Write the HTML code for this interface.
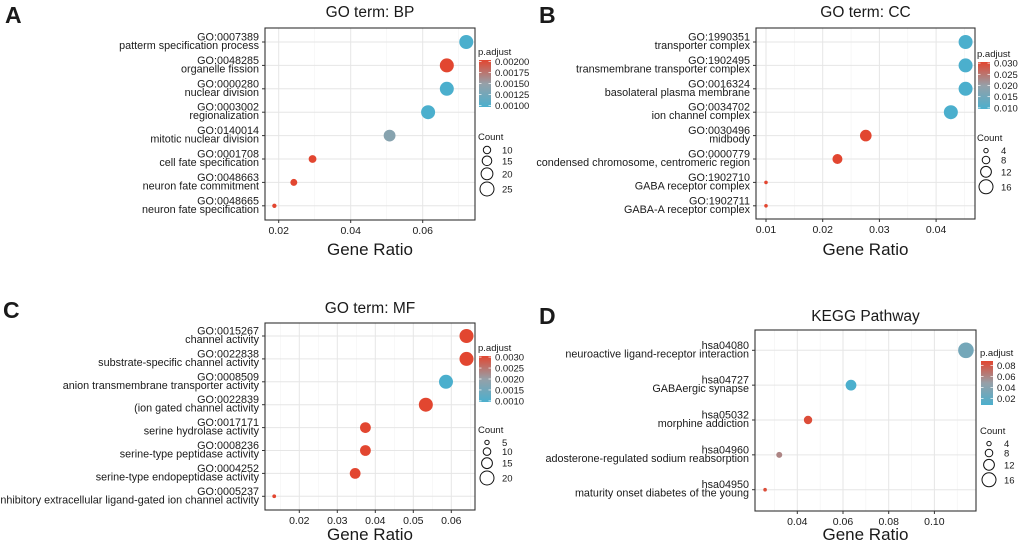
<!DOCTYPE html>
<html><head><meta charset="utf-8">
<style>
html,body{margin:0;padding:0;background:#fff;}
svg{display:block;font-family:"Liberation Sans",Arial,sans-serif;}
</style></head>
<body>
<svg id="fig" width="1020" height="546" viewBox="0 0 1020 546" xmlns="http://www.w3.org/2000/svg"></svg>
<script>
// Panel A: GO BP
const bpIds = ["GO:0007389","GO:0048285","GO:0000280","GO:0003002","GO:0140014","GO:0001708","GO:0048663","GO:0048665"];
const bpTerms = ["patterm specification process","organelle fission","nuclear division","regionalization","mitotic nuclear division","cell fate specification","neuron fate commitment","neuron fate specification"];
const bpRatio = [0.0721,0.0667,0.0667,0.0615,0.0508,0.0294,0.0242,0.0188];
const bpCount = [25,25,25,25,20,11,9,3];
const bpP = [0.0010,0.0020,0.0010,0.0010,0.0014,0.0020,0.0020,0.0020];
const bpXTicks = [0.02,0.04,0.06];
const bpPTicks = ["0.00200","0.00175","0.00150","0.00125","0.00100"];
const bpCountTicks = [10,15,20,25];

// Panel B: GO CC
const ccIds = ["GO:1990351","GO:1902495","GO:0016324","GO:0034702","GO:0030496","GO:0000779","GO:1902710","GO:1902711"];
const ccTerms = ["transporter complex","transmembrane transporter complex","basolateral plasma membrane","ion channel complex","midbody","condensed chromosome, centromeric region","GABA receptor complex","GABA-A receptor complex"];
const ccRatio = [0.0452,0.0452,0.0452,0.0426,0.0276,0.0226,0.0100,0.0100];
const ccCount = [16,16,16,16,13,11,3,3];
const ccP = [0.010,0.010,0.010,0.010,0.030,0.030,0.030,0.030];
const ccXTicks = [0.01,0.02,0.03,0.04];
const ccPTicks = ["0.030","0.025","0.020","0.015","0.010"];
const ccCountTicks = [4,8,12,16];

// Panel C: GO MF
const mfIds = ["GO:0015267","GO:0022838","GO:0008509","GO:0022839","GO:0017171","GO:0008236","GO:0004252","GO:0005237"];
const mfTerms = ["channel activity","substrate-specific channel activity","anion transmembrane transporter activity","(ion gated channel activity","serine hydrolase activity","serine-type peptidase activity","serine-type endopeptidase activity","inhibitory extracellular ligand-gated ion channel activity"];
const mfRatio = [0.0640,0.0640,0.0586,0.0533,0.0374,0.0374,0.0347,0.0134];
const mfCount = [20,20,20,20,15,15,15,4];
const mfP = [0.0030,0.0030,0.0010,0.0030,0.0030,0.0030,0.0030,0.0030];
const mfXTicks = [0.02,0.03,0.04,0.05,0.06];
const mfPTicks = ["0.0030","0.0025","0.0020","0.0015","0.0010"];
const mfCountTicks = [5,10,15,20];

// Panel D: KEGG
const kgIds = ["hsa04080","hsa04727","hsa05032","hsa04960","hsa04950"];
const kgTerms = ["neuroactive ligand-receptor interaction","GABAergic synapse","morphine addiction","adosterone-regulated sodium reabsorption","maturity onset diabetes of the young"];
const kgRatio = [0.1138,0.0635,0.0447,0.0321,0.0259];
const kgCount = [18,12,9,6,3];
const kgP = [0.030,0.008,0.085,0.060,0.085];
const kgXTicks = [0.04,0.06,0.08,0.10];
const kgPTicks = ["0.08","0.06","0.04","0.02"];
const kgPTickVals = [0.08,0.06,0.04,0.02];
const kgCountTicks = [4,8,12,16];

const NS = "http://www.w3.org/2000/svg";
const svg = document.getElementById("fig");
function mk(tag, attrs, parent){
  const e = document.createElementNS(NS, tag);
  for (const k in attrs) e.setAttribute(k, attrs[k]);
  (parent||svg).appendChild(e);
  return e;
}
function txt(s, x, y, size, anchor, parent, weight){
  const t = mk("text", {x:x, y:y, "font-size":size, "text-anchor":anchor||"start", fill:"#1a1a1a"}, parent);
  if (weight) t.setAttribute("font-weight", weight);
  t.textContent = s;
  return t;
}
const BLUE=[75,175,205], RED=[226,70,48], GRAY=[150,160,168];
function col(t){
  t=Math.max(0,Math.min(1,t));
  let a,b,u;
  if(t<0.5){a=BLUE;b=GRAY;u=t/0.5;}else{a=GRAY;b=RED;u=(t-0.5)/0.5;}
  const c=a.map((v,i)=>Math.round(v+(b[i]-v)*u));
  return "rgb("+c.join(",")+")";
}

function panel(cfg){
  const g = mk("g", {});
  
  
  const L=cfg.box[0], T=cfg.box[1], R=cfg.box[2], B=cfg.box[3];
  const xs = v => cfg.xp0 + (v - cfg.xv0) * cfg.xk;
  const n = cfg.ids.length;
  const ys = i => cfg.row0 + i * cfg.rowStep;
  const rs = c => cfg.ra + cfg.rb * c;
  const lt = txt(cfg.letter, cfg.letterPos[0], cfg.letterPos[1], 23, "start", g, "bold");
  
  
  const tt = txt(cfg.title, (L+R)/2, cfg.titleY, 15.5, "middle", g);
  
  
  const grid = mk("g", {}, g);
  
  
  const step = cfg.xticks[1]-cfg.xticks[0];
  for (let i=-1;i<cfg.xticks.length;i++){
    const v = (i<0? cfg.xticks[0]-step/2 : cfg.xticks[i]+step/2);
    const x = xs(v);
    if (x>L && x<R) mk("line",{x1:x,x2:x,y1:T,y2:B,stroke:"#f2f2f2","stroke-width":0.6},grid);
  }
  cfg.xticks.forEach(v=>{
    const x=xs(v);
    mk("line",{x1:x,x2:x,y1:T,y2:B,stroke:"#e6e6e6","stroke-width":1},grid);
  });
  for (let i=0;i<n;i++){
    mk("line",{x1:L,x2:R,y1:ys(i),y2:ys(i),stroke:"#e6e6e6","stroke-width":1},grid);
  }
  mk("rect",{x:L,y:T,width:R-L,height:B-T,fill:"none",stroke:"#333","stroke-width":1.1},g);
  cfg.xticks.forEach((v,i)=>{
    const x=xs(v);
    mk("line",{x1:x,x2:x,y1:B,y2:B+3,stroke:"#333","stroke-width":1},g);
    const t=txt(cfg.xlabels?cfg.xlabels[i]:String(v), x, B+14, 10.5, "middle", g);
    
    
  });
  const xt = txt("Gene Ratio",(L+R)/2,cfg.xTitleY,17,"middle",g);
  
  
  for (let i=0;i<n;i++){
    const y=ys(i);
    mk("line",{x1:L-3,x2:L,y1:y,y2:y,stroke:"#333","stroke-width":1},g);
    const a=txt(cfg.ids[i], L-6, y-1.5, 10.8, "end", g);
    
    
    const b=txt(cfg.terms[i], L-6, y+7, 10.8, "end", g);
    
    
  }
  for (let i=0;i<n;i++){
    const c = mk("circle",{cx:xs(cfg.ratio[i]),cy:ys(i),r:rs(cfg.count[i]),fill:col((cfg.p[i]-cfg.pmin)/(cfg.pmax-cfg.pmin))},g);
    
    
  }
  const lx=cfg.leg[0], ly=cfg.leg[1];
  const pl = txt("p.adjust", lx, ly, 9.5, "start", g);
  
  
  const gid="grad"+cfg.letter;
  const defs=mk("defs",{},g);
  const lg=mk("linearGradient",{id:gid,x1:0,y1:1,x2:0,y2:0},defs);
  for(let k=0;k<=10;k++) mk("stop",{offset:k/10,"stop-color":col(k/10)},lg);
  const by0=ly+5, bh=cfg.barH;
  const bar = mk("rect",{x:lx+1,y:by0,width:12,height:bh,fill:"url(#"+gid+")"},g);
  
  
  cfg.ptickLabels.forEach((s,k)=>{
    const v = cfg.ptickVals[k];
    const y = by0 + bh*(1-(v-cfg.barMin)/(cfg.barMax-cfg.barMin));
    mk("line",{x1:lx+1,x2:lx+3.5,y1:y,y2:y,stroke:"#fff","stroke-width":0.7},g);
    mk("line",{x1:lx+10.5,x2:lx+13,y1:y,y2:y,stroke:"#fff","stroke-width":0.7},g);
    const t=txt(s, lx+17, y+3.5, 9.5, "start", g);
    
    
  });
  const cy0=cfg.cleg;
  const ct = txt("Count", lx, cy0, 9.5, "start", g);
  
  
  let yy = cy0+4;
  cfg.countTicks.forEach(c=>{
    const r=rs(c);
    yy += Math.max(r,3)+ (cfg.countGap);
    const ci = mk("circle",{cx:lx+9,cy:yy,r:r,fill:"none",stroke:"#111","stroke-width":1},g);
    
    
    const t=txt(String(c), lx+24, yy+3.5, 9.5, "start", g);
    
    
    yy += Math.max(r,3);
  });
}

panel({name:"panel-a-bp",letter:"A",letterPos:[5,23],title:"GO term: BP",titleY:17,
  box:[265,28,475,220],xp0:278.7,xv0:0.02,xk:3600,row0:42,rowStep:23.4,xTitleY:255,
  ids:bpIds,terms:bpTerms,ratio:bpRatio,count:bpCount,p:bpP,xticks:bpXTicks,
  xlabels:["0.02","0.04","0.06"],ra:1.5,rb:0.22,pmin:0.001,pmax:0.002,
  leg:[478,55],barH:47,ptickLabels:bpPTicks,ptickVals:[0.002,0.00175,0.0015,0.00125,0.001],barMin:0.00097,barMax:0.00203,
  cleg:140,countTicks:bpCountTicks,countGap:2.3});
panel({name:"panel-b-cc",letter:"B",letterPos:[539,23],title:"GO term: CC",titleY:17,
  box:[756,28,975,219],xp0:766,xv0:0.01,xk:5670,row0:42,rowStep:23.4,xTitleY:255,
  ids:ccIds,terms:ccTerms,ratio:ccRatio,count:ccCount,p:ccP,xticks:ccXTicks,
  xlabels:["0.01","0.02","0.03","0.04"],ra:0.6,rb:0.4,pmin:0.01,pmax:0.03,
  leg:[977,57],barH:47,ptickLabels:ccPTicks,ptickVals:[0.03,0.025,0.02,0.015,0.01],barMin:0.0095,barMax:0.0305,
  cleg:141,countTicks:ccCountTicks,countGap:2.6});
panel({name:"panel-c-mf",letter:"C",letterPos:[3,318],title:"GO term: MF",titleY:313,
  box:[265,323,475,510],xp0:299.3,xv0:0.02,xk:3800,row0:336,rowStep:22.9,xTitleY:540,
  ids:mfIds,terms:mfTerms,ratio:mfRatio,count:mfCount,p:mfP,xticks:mfXTicks,
  xlabels:["0.02","0.03","0.04","0.05","0.06"],ra:0.6,rb:0.32,pmin:0.001,pmax:0.003,
  leg:[478,351],barH:46,ptickLabels:mfPTicks,ptickVals:[0.003,0.0025,0.002,0.0015,0.001],barMin:0.00095,barMax:0.00305,
  cleg:433,countTicks:mfCountTicks,countGap:2.4});
panel({name:"panel-d-kegg",letter:"D",letterPos:[539,324],title:"KEGG Pathway",titleY:321,
  box:[755,330,976,511],xp0:797.3,xv0:0.04,xk:2285,row0:350.3,rowStep:34.85,xTitleY:540,
  ids:kgIds,terms:kgTerms,ratio:kgRatio,count:kgCount,p:kgP,xticks:kgXTicks,
  xlabels:["0.04","0.06","0.08","0.10"],ra:0.6,rb:0.4,pmin:0.008,pmax:0.088,
  leg:[980,356],barH:44,ptickLabels:kgPTicks,ptickVals:kgPTickVals,barMin:0.008,barMax:0.088,
  cleg:434,countTicks:kgCountTicks,countGap:2.6});
</script>
</body></html>
